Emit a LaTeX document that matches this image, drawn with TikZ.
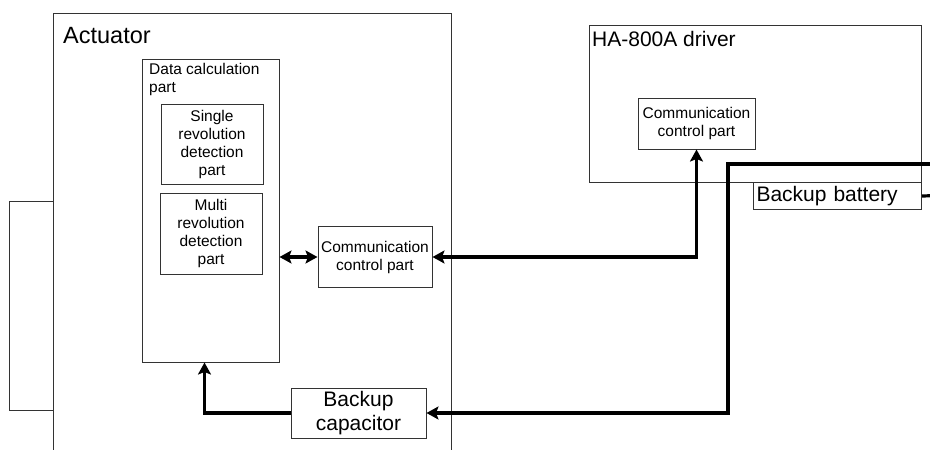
\documentclass[tikz,border=0pt]{standalone}
\usepackage{fontspec}
\setmainfont{Liberation Sans}
\usetikzlibrary{arrows.meta}

\begin{document}
\begin{tikzpicture}[x=1pt,y=-1pt,
  box/.style={draw=black!80,line width=1pt,inner sep=0pt,align=center},
  small/.style={font=\fontsize{15.5}{18}\selectfont},
  large/.style={font=\fontsize{21}{24}\selectfont},
  bus/.style={line width=3.2pt,>={Stealth[length=12pt,width=13pt,inset=2.5pt]}}]
  \useasboundingbox (0,0) rectangle (930,450);
  \clip (0,0) rectangle (930,450);
  % actuator
  \node [box,minimum width=398,minimum height=460] (act) at (252,243) {};
  \node [anchor=base west,inner sep=0pt,
    font=\fontsize{23.5}{28}\selectfont] (actlabel) at (63,43) {Actuator};
  \node [box,minimum width=44,minimum height=209] (motor) at (31,305.5) {};
  \node [box,minimum width=137,minimum height=303] (calc) at (210.5,210.5) {};
  \node [small,anchor=north west,align=left,inner sep=0pt]
    (calclabel) at (149,63) {Data calculation\\part};
  \node [box,small,minimum width=102,minimum height=80]
    (single) at (212,144) {Single\\revolution\\detection\\part};
  \node [box,small,minimum width=102,minimum height=81]
    (multi) at (211,233.5) {Multi\\revolution\\detection\\part};
  \node [box,small,minimum width=114,minimum height=61]
    (commA) at (375,257) {Communication\\control part};
  \node [box,large,minimum width=135,minimum height=50]
    (cap) at (358.5,413) {Backup\\capacitor};
  % driver
  \node [box,minimum width=332,minimum height=157] (drv) at (755,103.5) {};
  \node [large,anchor=base west,inner sep=0pt] (drvlabel) at (592,46) {HA-800A driver};
  \node [box,small,minimum width=117,minimum height=51]
    (commD) at (696.5,123.5) {Communication\\control part};
  \node [box,large,anchor=north west,minimum height=27,text width=162,
    align=left,inner xsep=3pt] (bat) at (753,182) {Backup battery};
  % lines leaving the picture
  \coordinate (busIn) at (940,164);
  \coordinate (busBend) at (728,164);
  \coordinate (batOut) at (940,195.5);
  % connectors
  \draw [bus,<->] (calc.east |- commA.west) -- (commA.west);
  \draw [bus,<->] (commA.east) -| (commD.south);
  \draw [bus,->] (busIn) -- (busBend) |- (cap.east);
  \draw [bus,->] (cap.west) -| ([xshift=-6pt]calc.south);
  \draw [bus] (bat.east) -- (batOut);
\end{tikzpicture}
\end{document}
